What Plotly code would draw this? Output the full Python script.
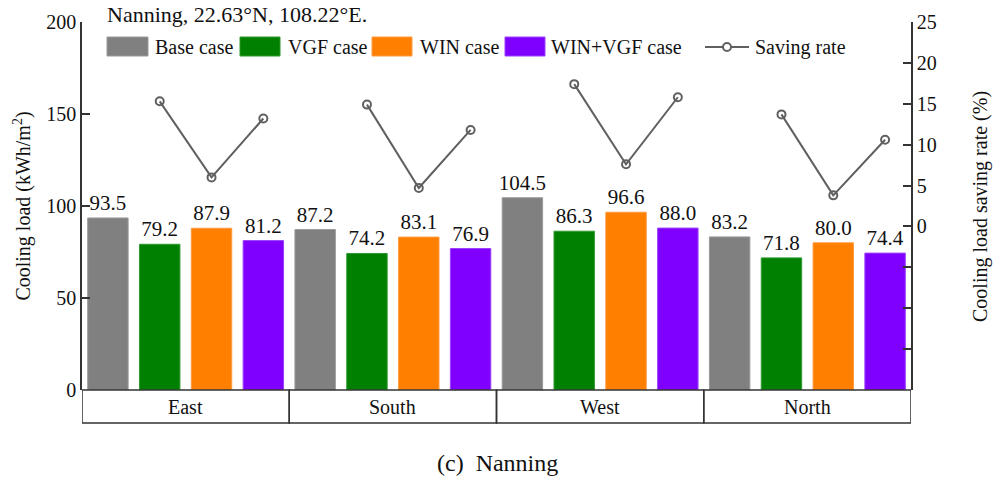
import plotly.graph_objects as go

categories = ["East", "South", "West", "North"]
series_names = ["Base case", "VGF case", "WIN case", "WIN+VGF case"]
base_case = [93.5, 87.2, 104.5, 83.2]
vgf_case = [79.2, 74.2, 86.3, 71.8]
win_case = [87.9, 83.1, 96.6, 80.0]
winvgf_case = [81.2, 76.9, 88.0, 74.4]
# saving rates (%) for VGF, WIN, WIN+VGF per orientation
saving_vgf = [15.3, 14.9, 17.4, 13.7]
saving_win = [6.0, 4.7, 7.6, 3.8]
saving_winvgf = [13.2, 11.8, 15.8, 10.6]
left_ticks = [0, 50, 100, 150, 200]
right_ticks = [0, 5, 10, 15, 20, 25]
right_unlabeled_ticks = [-20, -15, -10, -5]

colors = ["#808080", "#008000", "#FF8000", "#8000FF"]
borders = ["#9a9a9a", "#2f9a2f", "#ff9a40", "#9a40ff"]
SERIF = "Liberation Serif, Times New Roman, serif"

W, H = 993, 488
L, R, T, B = 82, 911, 22, 390


def px(x):
    return (x - L) / (R - L)


def py(y):
    return (B - y) / (B - T)


offsets = [-0.375, -0.125, 0.125, 0.375]
bar_w = 0.195
all_series = [base_case, vgf_case, win_case, winvgf_case]

fig = go.Figure()
for j, (name, vals) in enumerate(zip(series_names, all_series)):
    xs = [i + offsets[j] for i in range(len(categories))]
    fig.add_trace(go.Bar(
        x=xs, y=vals, width=bar_w, name=name,
        marker=dict(color=colors[j], line=dict(color=borders[j], width=1)),
        text=[f"{v:.1f}" for v in vals], textposition="outside",
        textfont=dict(family=SERIF, size=21, color="#111"), constraintext="none",
        cliponaxis=False, showlegend=False, yaxis="y",
    ))

lx, ly = [], []
for i in range(len(categories)):
    for j, s in zip([1, 2, 3], [saving_vgf, saving_win, saving_winvgf]):
        lx.append(i + offsets[j])
        ly.append(s[i])
    lx.append(None)
    ly.append(None)
fig.add_trace(go.Scatter(
    x=lx, y=ly, yaxis="y2", mode="lines+markers", name="Saving rate",
    line=dict(color="#606060", width=2),
    marker=dict(symbol="circle-open", size=8, color="#606060", line=dict(width=2)),
    showlegend=False, connectgaps=False,
))

shapes = []
annotations = []
# category boxes
for i, c in enumerate(categories):
    shapes.append(dict(type="rect", xref="x", yref="paper", x0=i - 0.5, x1=i + 0.5,
                       y0=py(423), y1=0, line=dict(color="#333", width=1.5)))
    annotations.append(dict(text=c, x=i, xref="x", y=py(407), yref="paper",
                            showarrow=False, font=dict(family=SERIF, size=20, color="#111"),
                            xanchor="center", yanchor="middle"))

# manual legend
legend_boxes = [(107, 148), (240, 280), (372, 412), (505, 545)]
legend_text_x = [153, 286, 418, 549]
for j in range(4):
    x0, x1 = legend_boxes[j]
    shapes.append(dict(type="rect", xref="paper", yref="paper", x0=px(x0), x1=px(x1),
                       y0=py(56), y1=py(37), fillcolor=colors[j],
                       line=dict(color=borders[j], width=1)))
    annotations.append(dict(text=series_names[j], x=px(legend_text_x[j]), xref="paper",
                            y=py(47), yref="paper", showarrow=False, xanchor="left",
                            yanchor="middle", font=dict(family=SERIF, size=20, color="#111")))
shapes.append(dict(type="line", xref="paper", yref="paper", x0=px(705), x1=px(749),
                   y0=py(47), y1=py(47), line=dict(color="#606060", width=2)))
shapes.append(dict(type="circle", xref="paper", yref="paper", x0=px(723), x1=px(731),
                   y0=py(51), y1=py(43), fillcolor="white", line=dict(color="#606060", width=2)))
annotations.append(dict(text="Saving rate", x=px(753), xref="paper", y=py(47), yref="paper",
                        showarrow=False, xanchor="left", yanchor="middle",
                        font=dict(family=SERIF, size=20, color="#111")))
# header
annotations.append(dict(text="Nanning, 22.63°N, 108.22°E.", x=px(105), xref="paper",
                        y=py(15), yref="paper", showarrow=False, xanchor="left",
                        yanchor="middle", font=dict(family=SERIF, size=22, color="#111")))
# right axis title
annotations.append(dict(text="Cooling load saving rate (%)", x=px(980), xref="paper",
                        y=py(206), yref="paper", showarrow=False, textangle=-90,
                        xanchor="center", yanchor="middle",
                        font=dict(family=SERIF, size=20, color="#111")))
# caption
annotations.append(dict(text="(c)  Nanning", x=px(497), xref="paper", y=py(463), yref="paper",
                        showarrow=False, xanchor="center", yanchor="middle",
                        font=dict(family=SERIF, size=24, color="#111")))

fig.update_layout(
    width=W, height=H,
    margin=dict(l=L, r=W - R, t=T, b=H - B),
    paper_bgcolor="white", plot_bgcolor="white",
    barmode="overlay",
    font=dict(family=SERIF, size=20, color="#111"),
    xaxis=dict(range=[-0.5, 3.5], showgrid=False, zeroline=False, showticklabels=False,
               ticks="", showline=False, automargin=False),
    yaxis=dict(range=[0, 200], tickvals=left_ticks, ticks="inside", ticklen=8, tickwidth=1.5,
               tickcolor="#333", showline=True, linecolor="#333", linewidth=1.5,
               showgrid=False, zeroline=False, tickfont=dict(family=SERIF, size=20),
               automargin=False,
               title=dict(text="Cooling load (kWh/m<sup>2</sup>)", font=dict(family=SERIF, size=20),
                          standoff=10)),
    yaxis2=dict(range=[-20, 25], overlaying="y", side="right", tickvals=right_ticks,
                ticks="inside", ticklen=8, tickwidth=1.5, tickcolor="#333",
                minor=dict(tickvals=right_unlabeled_ticks, ticks="inside", ticklen=8,
                           tickwidth=1.5, tickcolor="#333", showgrid=False),
                showline=True, linecolor="#333", linewidth=1.5, showgrid=False,
                zeroline=False, tickfont=dict(family=SERIF, size=20), automargin=False),
    shapes=shapes, annotations=annotations,
)

fig.write_html("out.html", config={"displayModeBar": False},
               post_script="document.body.style.margin='0px';")
